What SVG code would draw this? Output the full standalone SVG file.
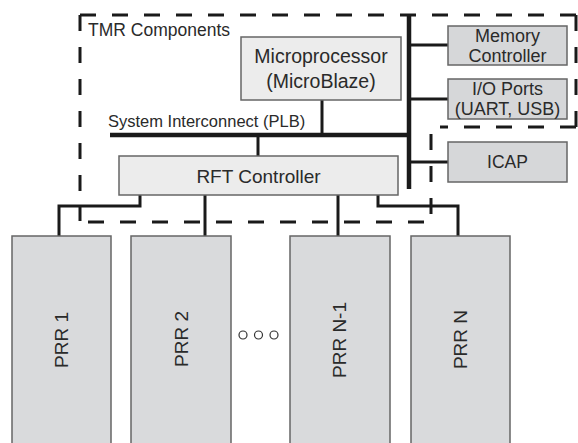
<svg xmlns="http://www.w3.org/2000/svg" width="578" height="443" viewBox="0 0 578 443">
<style>
text{font-family:"Liberation Sans",Arial,sans-serif;fill:#2a2a2a}
.light{fill:#ececec;stroke:#666;stroke-width:1.5}
.mid{fill:#d6d7d9;stroke:#666;stroke-width:1.5}
.prr{fill:#d9dadc;stroke:#666;stroke-width:1.5}
.bus{stroke:#1a1a1a;stroke-width:4.5;fill:none}
.wire{stroke:#1a1a1a;stroke-width:3;fill:none}
.dash{stroke:#1a1a1a;stroke-width:3;fill:none;stroke-dasharray:16 16}
</style>
<rect width="578" height="443" fill="#fff"/>
<g id="tmr-region">
<path class="dash" d="M80,15 H576" stroke-dashoffset="0"/>
<path class="dash" d="M576,15 V127"/>
<path class="dash" d="M576,127 H440"/>
<path class="dash" d="M80,15 V221"/>
<path class="dash" d="M431,134 V214"/>
<path class="dash" d="M88,222 H424"/>
<text x="88" y="36" font-size="17.5">TMR Components</text>
</g>
<g id="connectors">
<path class="bus" d="M409,15 V189"/>
<path class="bus" d="M110,135 H409"/>
<path class="wire" d="M322,100 V135"/>
<path class="wire" d="M258,135 V156"/>
<path class="wire" d="M409,45 H448"/>
<path class="wire" d="M409,99 H448"/>
<path class="wire" d="M409,162 H448"/>
<path class="wire" d="M140,195 V206 H59 V236"/>
<path class="wire" d="M205,195 V236"/>
<path class="wire" d="M338,195 V236"/>
<path class="wire" d="M378,195 V206 H458 V236"/>
<text x="108" y="127" font-size="16.5">System Interconnect (PLB)</text>
</g>
<g id="microprocessor">
<rect class="light" x="241" y="37" width="160" height="63"/>
<text x="321" y="63" font-size="19.5" text-anchor="middle">Microprocessor</text>
<text x="321" y="88" font-size="19.5" text-anchor="middle">(MicroBlaze)</text>
</g>
<g id="memory-controller">
<rect class="mid" x="448" y="26" width="119" height="39"/>
<text x="507.5" y="42" font-size="18" text-anchor="middle">Memory</text>
<text x="507.5" y="62" font-size="18" text-anchor="middle">Controller</text>
</g>
<g id="io-ports">
<rect class="mid" x="448" y="79" width="119" height="40"/>
<text x="507.5" y="95" font-size="18" text-anchor="middle">I/O Ports</text>
<text x="507.5" y="115" font-size="18" text-anchor="middle">(UART, USB)</text>
</g>
<g id="icap">
<rect class="mid" x="448" y="142" width="119" height="40"/>
<text x="507.5" y="168" font-size="17.5" text-anchor="middle">ICAP</text>
</g>
<g id="rft-controller">
<rect class="light" x="119" y="156" width="279" height="39"/>
<text x="258.5" y="183" font-size="19" text-anchor="middle">RFT Controller</text>
</g>
<g id="prr1">
<rect class="prr" x="12" y="236" width="99" height="220"/>
<text transform="translate(61,340) rotate(-90)" x="0" y="7" font-size="19" text-anchor="middle">PRR 1</text>
</g>
<g id="prr2">
<rect class="prr" x="131" y="236" width="100" height="220"/>
<text transform="translate(181,339) rotate(-90)" x="0" y="7" font-size="19" text-anchor="middle">PRR 2</text>
</g>
<g id="ellipsis">
<circle cx="243" cy="335" r="4" fill="#fff" stroke="#333" stroke-width="1.2"/>
<circle cx="258.5" cy="335" r="4" fill="#fff" stroke="#333" stroke-width="1.2"/>
<circle cx="274" cy="335" r="4" fill="#fff" stroke="#333" stroke-width="1.2"/>
</g>
<g id="prrn-1">
<rect class="prr" x="290" y="236" width="100" height="220"/>
<text transform="translate(339,340) rotate(-90)" x="0" y="7" font-size="19" text-anchor="middle">PRR N-1</text>
</g>
<g id="prrn">
<rect class="prr" x="411" y="236" width="99" height="220"/>
<text transform="translate(460,339.5) rotate(-90)" x="0" y="7" font-size="19" text-anchor="middle">PRR N</text>
</g>
</svg>
